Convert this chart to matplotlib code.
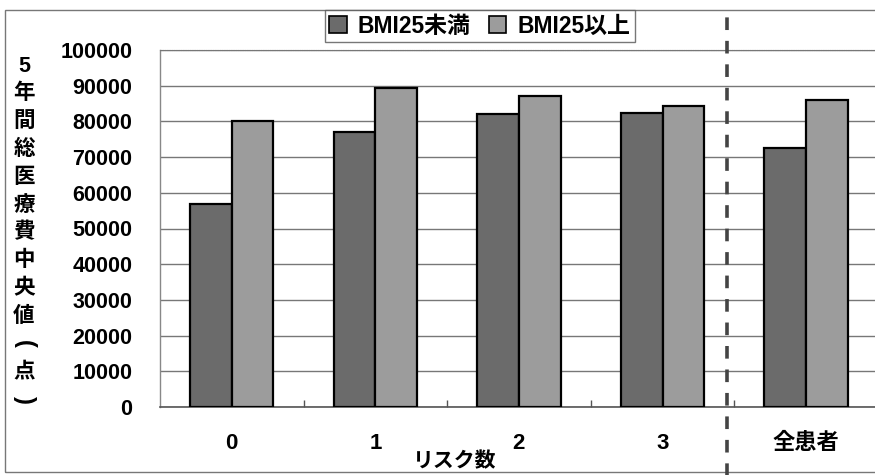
import matplotlib
matplotlib.use("Agg")
import matplotlib.pyplot as plt
from matplotlib.lines import Line2D
from matplotlib.patches import Rectangle
import matplotlib.transforms as mtransforms
import numpy as np

plt.rcParams['font.family'] = ['Liberation Sans', 'Noto Sans CJK JP', 'DejaVu Sans']

categories = ['0', '1', '2', '3', '全患者']
bmi_under25 = [57000, 77000, 82000, 82400, 72600]
bmi_over25 = [80000, 89400, 87200, 84400, 86000]
series_names = ['BMI25未満', 'BMI25以上']
y_ticks = [0, 10000, 20000, 30000, 40000, 50000, 60000, 70000, 80000, 90000, 100000]
y_title = '5年間総医療費中央値(点)'
x_title = 'リスク数'

W, H = 875, 475
fig = plt.figure(figsize=(W / 100, H / 100), dpi=100)
ax = fig.add_axes([160 / W, 1 - 407 / H, (W - 160) / W, (407 - 50) / H])

x = np.arange(len(categories))
bw = 0.29
dark = '#6b6b6b'
light = '#9c9c9c'
ax.bar(x - bw / 2, bmi_under25, width=bw, color=dark, edgecolor='black',
       linewidth=1.6, zorder=3, label=series_names[0])
ax.bar(x + bw / 2, bmi_over25, width=bw, color=light, edgecolor='black',
       linewidth=1.6, zorder=3, label=series_names[1])

ax.set_xlim(-0.5, 4.48)
ax.set_ylim(0, 100000)
ax.set_yticks(y_ticks)
ax.set_yticklabels([str(v) for v in y_ticks], fontsize=15.5, fontweight='bold')
ax.tick_params(axis='y', length=0, pad=20)
ax.set_xticks(x)
ax.set_xticklabels(categories, fontsize=16, fontweight='bold')
ax.tick_params(axis='x', which='major', length=0, pad=19)
ax.set_xticks(np.arange(len(categories) - 1) + 0.5, minor=True)
ax.tick_params(axis='x', which='minor', direction='in', length=5,
               width=1, color='#555555')

ax.yaxis.grid(True, color='#777777', linewidth=1.0, zorder=0)
ax.set_axisbelow(True)
ax.spines['right'].set_visible(False)
ax.spines['top'].set_color('#777777')
ax.spines['top'].set_linestyle((0, (1, 0.6)))
ax.spines['left'].set_color('#888888')
ax.spines['left'].set_linewidth(1.0)
ax.spines['bottom'].set_color('#555555')
ax.spines['bottom'].set_linewidth(1.2)

# vertical axis title written top-to-bottom, brackets turned sideways
y0, y1 = 66, 400
step = (y1 - y0) / (len(y_title) - 1)
for i, ch in enumerate(y_title):
    rot = -90 if ch in '()' else 0
    fig.text(24 / W, 1 - (y0 + i * step) / H, ch, ha='center', va='center',
             fontsize=17 if rot else 15.5, fontweight='bold', rotation=rot)

fig.text(455 / W, 1 - 452 / H, x_title, ha='center', va='top',
         fontsize=15, fontweight='bold')

# separator between risk groups and all patients
trans = mtransforms.blended_transform_factory(ax.transData, fig.transFigure)
fig.add_artist(Line2D([3.45, 3.45], [-0.02, 1 - 10 / H], transform=trans,
                      color='#444444', linewidth=2.6,
                      linestyle=(0, (3.5, 3)), zorder=5))

# outer chart frame
fig.add_artist(Rectangle((5 / W, 1 - 472 / H), 1.2, (472 - 10) / H,
                         transform=fig.transFigure, fill=False,
                         edgecolor='#777777', linewidth=1.0, zorder=0))

leg = fig.legend(loc='upper center', bbox_to_anchor=(480 / W, 1 - 10 / H),
                 ncol=2, frameon=True, fancybox=False, edgecolor='#555555',
                 prop={'size': 16.5, 'weight': 'bold'}, handlelength=0.75,
                 handleheight=0.75, handletextpad=0.5, columnspacing=0.8,
                 borderpad=0.2, borderaxespad=0)
leg.get_frame().set_linewidth(1.0)
for h in leg.legend_handles:
    h.set_linewidth(1.2)

fig.savefig('out.png', dpi=100, facecolor='white')
